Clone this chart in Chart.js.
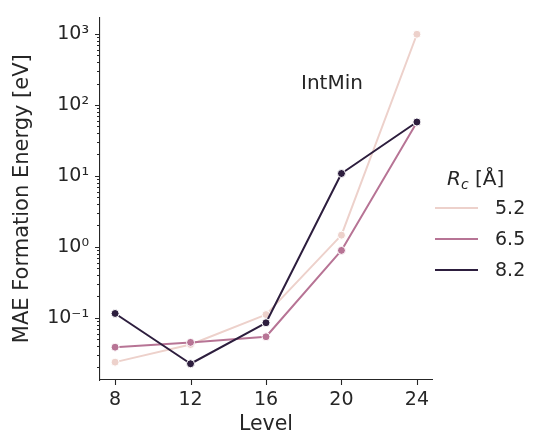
<!DOCTYPE html>
<html>
<head>
<meta charset="utf-8">
<script src="https://cdn.jsdelivr.net/npm/chart.js@4.4.0/dist/chart.umd.min.js"></script>
<style>
  html, body { margin: 0; padding: 0; background: #fff; }
  #wrap { width: 536px; height: 435px; }
</style>
</head>
<body>
<div id="wrap"><canvas id="mae-chart" width="536" height="435"></canvas></div>
<script>
// Mean absolute error of formation energy per level, one series per cutoff radius
const levels = [8, 12, 16, 20, 24];
const cutoffs = ['5.2', '6.5', '8.2'];
const mae52 = [0.0237, 0.042, 0.111, 1.46, 990];
const mae65 = [0.0385, 0.045, 0.054, 0.89, 57];
const mae82 = [0.115, 0.0225, 0.085, 10.8, 57.4];
const yTickValues = [0.1, 1, 10, 100, 1000];
const yTickLabels = ['10⁻¹', '10⁰', '10¹', '10²', '10³'];
const lineColors = ['#edd1cb', '#b77495', '#2d1e3e'];

const FONT = 'DejaVu Sans';
const INK = '#262626';

function series(values, i) {
    return {
        label: cutoffs[i],
        data: levels.map((lv, j) => ({ x: lv, y: values[j] })),
        borderColor: lineColors[i],
        backgroundColor: lineColors[i],
        pointBackgroundColor: lineColors[i],
        pointBorderColor: '#ffffff',
        pointBorderWidth: 1,
        pointRadius: 4,
        borderWidth: 2,
        borderJoinStyle: 'round',
        tension: 0,
        fill: false,
        order: 3 - i
    };
}

// tick marks, the "IntMin" note and the legend are drawn here
const decor = {
    id: 'decor',
    afterDraw(chart) {
        const ctx = chart.ctx;
        const xs = chart.scales.x;
        const ys = chart.scales.y;
        ctx.save();
        ctx.strokeStyle = INK;
        ctx.lineWidth = 1.1;

        ctx.beginPath();
        levels.forEach(v => {
            const px = Math.round(xs.getPixelForValue(v)) + 0.5;
            ctx.moveTo(px, ys.bottom);
            ctx.lineTo(px, ys.bottom + 5);
        });
        for (let e = -2; e <= 3; e++) {
            for (let k = 1; k <= 9; k++) {
                const v = k * Math.pow(10, e);
                if (v < ys.min || v > ys.max) continue;
                const py = Math.round(ys.getPixelForValue(v)) + 0.5;
                ctx.moveTo(xs.left, py);
                ctx.lineTo(xs.left - (k === 1 ? 5 : 3), py);
            }
        }
        ctx.stroke();

        // annotation
        ctx.fillStyle = INK;
        ctx.font = '20px "' + FONT + '"';
        ctx.textAlign = 'center';
        ctx.textBaseline = 'alphabetic';
        ctx.fillText('IntMin', 332, 89);

        // legend title R_c [Å]
        ctx.textAlign = 'left';
        let tx = 447;
        const ty = 185;
        ctx.font = 'italic 20px "' + FONT + '"';
        ctx.fillText('R', tx, ty);
        tx += ctx.measureText('R').width;
        ctx.font = 'italic 14px "' + FONT + '"';
        ctx.fillText('c', tx, ty + 4);
        tx += ctx.measureText('c').width;
        ctx.font = '20px "' + FONT + '"';
        ctx.fillText(' [Å]', tx, ty);

        // legend entries
        ctx.font = '19px "' + FONT + '"';
        ctx.textBaseline = 'middle';
        chart.data.datasets.forEach((ds, i) => {
            const ly = 208 + i * 31;
            ctx.strokeStyle = ds.borderColor;
            ctx.lineWidth = 2;
            ctx.beginPath();
            ctx.moveTo(435, ly);
            ctx.lineTo(478, ly);
            ctx.stroke();
            ctx.fillStyle = INK;
            ctx.fillText(ds.label, 495, ly + 1);
        });
        ctx.restore();
    }
};

new Chart(document.getElementById('mae-chart'), {
    type: 'line',
    data: {
        datasets: [series(mae52, 0), series(mae65, 1), series(mae82, 2)]
    },
    options: {
        responsive: false,
        animation: false,
        devicePixelRatio: 1,
        layout: { padding: { top: 7, right: 104, bottom: 0, left: 0 } },
        plugins: {
            legend: { display: false },
            tooltip: { enabled: false }
        },
        scales: {
            x: {
                type: 'linear',
                min: 7.2,
                max: 24.8,
                afterBuildTicks: scale => { scale.ticks = levels.map(v => ({ value: v })); },
                afterFit: scale => { scale.height = 55; },
                grid: { display: true, drawOnChartArea: false, drawTicks: true, tickLength: 5, color: 'rgba(0,0,0,0)' },
                border: { display: true, color: INK, width: 1.1 },
                ticks: { color: INK, font: { family: FONT, size: 19 }, padding: 4, maxRotation: 0, autoSkip: false },
                title: {
                    display: true,
                    text: 'Level',
                    color: INK,
                    font: { family: FONT, size: 20.5, lineHeight: 1 },
                    padding: { top: 0, bottom: 0 }
                }
            },
            y: {
                type: 'logarithmic',
                min: 0.01328,
                max: 1710,
                afterBuildTicks: scale => { scale.ticks = yTickValues.map(v => ({ value: v, major: true })); },
                afterFit: scale => { scale.width = 100; },
                grid: { display: true, drawOnChartArea: false, drawTicks: true, tickLength: 5, color: 'rgba(0,0,0,0)' },
                border: { display: true, color: INK, width: 1.1 },
                ticks: {
                    color: INK,
                    font: { family: FONT, size: 19 },
                    padding: 6,
                    autoSkip: false,
                    callback: value => {
                        const i = yTickValues.indexOf(value);
                        return i >= 0 ? yTickLabels[i] : '';
                    }
                },
                title: {
                    display: true,
                    text: 'MAE Formation Energy [eV]',
                    color: INK,
                    font: { family: FONT, size: 21, lineHeight: 1 },
                    padding: { top: 12, bottom: 0 }
                }
            }
        }
    },
    plugins: [decor]
});
</script>
</body>
</html>
